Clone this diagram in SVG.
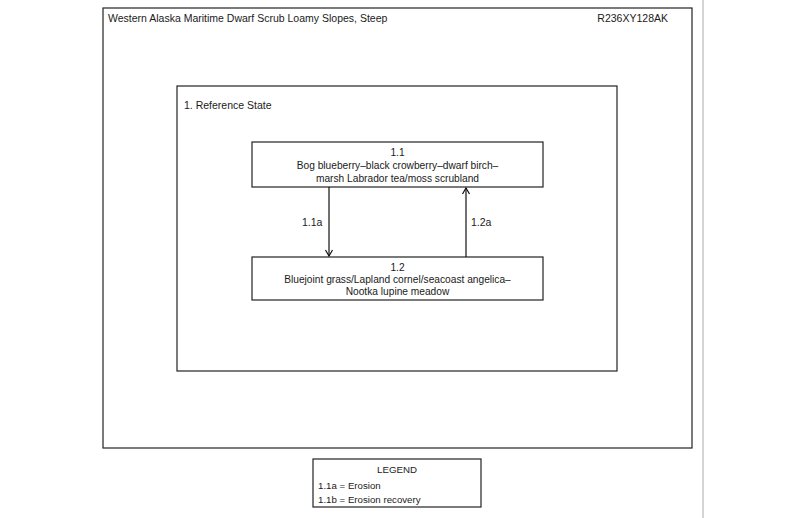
<svg xmlns="http://www.w3.org/2000/svg" width="800" height="518" viewBox="0 0 800 518">
<style>
text{font-family:"Liberation Sans",Arial,sans-serif;font-size:10.5px;fill:#1a1a1a}
.c{text-anchor:middle}
.n{font-size:10.2px}
.lg{font-size:9.7px}
.box{fill:#fff;stroke:#222;stroke-width:1.2}
.conn{stroke:#111;stroke-width:1.2;fill:none}
</style>
<defs>
<marker id="ah" markerWidth="10" markerHeight="10" refX="9" refY="5" orient="auto" markerUnits="userSpaceOnUse">
<polyline points="3,1.5 9,5 3,8.5" fill="none" stroke="#111" stroke-width="1.2"/>
</marker>
</defs>
<rect width="800" height="518" fill="#fff"/>
<line x1="703" y1="0" x2="703" y2="518" stroke="#aaa" stroke-width="1"/>
<g id="frame">
<rect x="103" y="8" width="589" height="440" class="box" stroke="#333"/>
<text x="108" y="22">Western Alaska Maritime Dwarf Scrub Loamy Slopes, Steep</text>
<text x="668" y="22" text-anchor="end">R236XY128AK</text>
</g>
<g id="state1">
<rect x="177" y="86" width="440" height="285" class="box" stroke-width="1.5"/>
<text x="184" y="109">1. Reference State</text>
</g>
<g id="node1_1">
<rect x="252" y="142" width="291" height="45" class="box"/>
<text class="c n" x="397.5" y="156">1.1</text>
<text class="c n" x="397.5" y="169">Bog blueberry–black crowberry–dwarf birch–</text>
<text class="c n" x="397.5" y="182">marsh Labrador tea/moss scrubland</text>
</g>
<g id="node1_2">
<rect x="252" y="257" width="291" height="43" class="box"/>
<text class="c n" x="397.5" y="271">1.2</text>
<text class="c n" x="397.5" y="283">Bluejoint grass/Lapland cornel/seacoast angelica–</text>
<text class="c n" x="397.5" y="295">Nootka lupine meadow</text>
</g>
<g id="connectors">
<line x1="329" y1="187" x2="329" y2="256" class="conn" marker-end="url(#ah)"/>
<line x1="466" y1="257" x2="466" y2="188" class="conn" marker-end="url(#ah)"/>
<text x="302" y="226">1.1a</text>
<text x="471" y="226">1.2a</text>
</g>
<g id="legend">
<rect x="313" y="459" width="168" height="48" class="box" stroke-width="1"/>
<text class="c lg" x="397" y="473">LEGEND</text>
<text class="lg" x="318" y="489">1.1a = Erosion</text>
<text class="lg" x="318" y="503">1.1b = Erosion recovery</text>
</g>
</svg>
